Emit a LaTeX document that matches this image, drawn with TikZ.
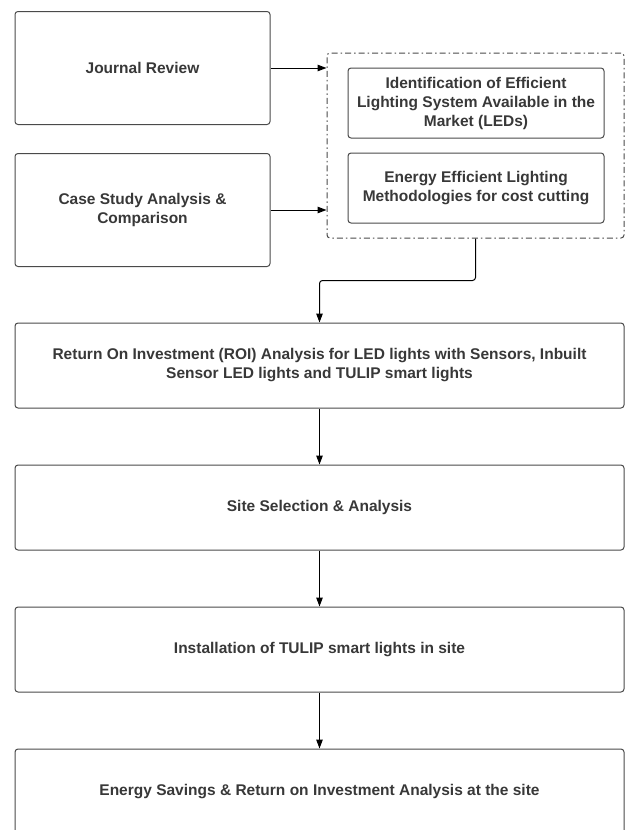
\documentclass[tikz,border=0pt]{standalone}
\usepackage{fontspec}
\setmainfont{Liberation Sans}
\usetikzlibrary{arrows.meta}

\definecolor{boxline}{HTML}{4A4A4A}
\definecolor{boxtext}{HTML}{383838}

\tikzset{
	stagebox/.style={draw=boxline, line width=1pt, rounded corners=3pt,
		align=center, text=boxtext, inner sep=0pt,
		font=\bfseries\fontsize{15.5}{19}\selectfont},
	groupbox/.style={draw=boxline, line width=1pt, rounded corners=3pt,
		dash pattern=on 6pt off 3pt on 1.5pt off 3pt},
	flow/.style={draw=black, line width=1pt,
		-{Triangle[length=9pt,width=6.5pt]}}
}

\begin{document}
\begin{tikzpicture}[x=1pt, y=-1pt]
		\useasboundingbox (0,0) rectangle (628,830);
		
		\node[stagebox, minimum width=255pt, minimum height=113pt] (journal) at (142.5,68) {Journal Review};
		
		\node[stagebox, minimum width=255pt, minimum height=113pt] (casestudy) at (142.5,210) {Case Study Analysis \&\\Comparison};
		
		\node[groupbox, minimum width=297pt, minimum height=185pt] (methods) at (475.5,145.5) {};
		
		\node[stagebox, minimum width=256pt, minimum height=70pt] (ident) at (476,103) {Identification of Efficient\\Lighting System Available in the\\Market (LEDs)};
		
		\node[stagebox, minimum width=256pt, minimum height=70pt] (saving) at (476,188) {Energy Efficient Lighting\\Methodologies for cost cutting};
		
		\node[stagebox, minimum width=609pt, minimum height=85pt] (roi) at (319.5,365.5) {Return On Investment (ROI) Analysis for LED lights with Sensors, Inbuilt\\Sensor LED lights and TULIP smart lights};
		
		\node[stagebox, minimum width=609pt, minimum height=85pt] (site) at (319.5,507.5) {Site Selection \& Analysis};
		
		\node[stagebox, minimum width=609pt, minimum height=85pt] (install) at (319.5,649.5) {Installation of TULIP smart lights in site};
		
		\node[stagebox, minimum width=609pt, minimum height=85pt] (result) at (319.5,791.5) {Energy Savings \& Return on Investment Analysis at the site};
		
		\draw[flow] (journal.east) -- (journal.east -| methods.west);
		
		\draw[flow] (casestudy.east) -- (casestudy.east -| methods.west);
		
		\draw[flow, rounded corners=3pt] (methods.south) -- ++(0,42) -| (roi.north);
		
		\draw[flow] (roi) -- (site);
		
		\draw[flow] (site) -- (install);
		
		\draw[flow] (install) -- (result);
		
\end{tikzpicture}
\end{document}
